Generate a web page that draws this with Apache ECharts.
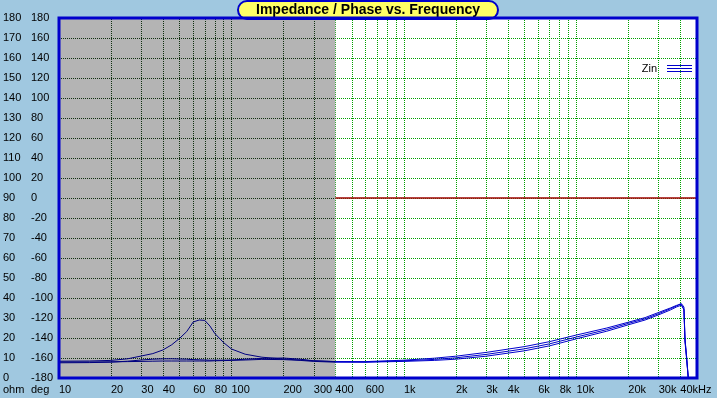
<!DOCTYPE html>
<html><head><meta charset="utf-8">
<script src="https://cdn.jsdelivr.net/npm/echarts@6/dist/echarts.min.js"></script>
<style>html,body{margin:0;padding:0;background:#a0c8e0;}#c{width:717px;height:398px;}</style>
</head><body><div id="c"></div>
<script>
const freq = [10,15,20,25,30,35,40,45,50,55,60,65,70,75,80,90,100,120,150,200,250,300,400,600,1000,1500,2000,3000,5000,7000,10000,15000,20000,25000,30000,35000,38000,40500,41500,42000,42600,43500,44500];
const zinA = [8.4,8.5,8.8,9.6,11.0,12.2,14.0,16.6,19.8,23.2,28.0,29.0,28.8,26.0,22.3,17.7,14.5,11.9,10.4,9.5,9.0,8.6,8.2,8.0,8.6,9.3,10.1,11.8,14.6,17.1,20.5,24.2,27.3,29.6,32.2,34.6,36.0,37.3,36.6,35.5,19.0,10.5,0];
const zinB = [7.6,7.7,7.9,8.4,9.0,9.4,9.6,9.6,9.5,9.4,9.2,9.1,9.0,8.9,8.9,8.9,9.0,9.4,9.8,10.0,9.4,8.6,8.2,8.2,8.9,9.9,10.9,12.8,15.7,18.2,21.5,25.0,27.9,30.2,32.8,35.0,36.3,36.9,36.2,34.0,18.0,9.5,0];
const zinC = [8.0,8.0,8.1,8.2,8.3,8.4,8.5,8.5,8.5,8.5,8.5,8.5,8.5,8.5,8.6,8.7,8.8,9.0,9.3,9.2,8.8,8.3,7.9,7.9,8.3,8.8,9.4,10.9,13.6,16.1,19.6,23.4,26.6,29.0,31.6,34.0,35.5,36.4,35.8,34.5,19.5,11.0,0];
const refFreq = [400, 50000];
const refOhm = [90, 90];
const xLabelValues = [10,20,30,40,60,80,100,200,300,400,600,1000,2000,3000,4000,6000,8000,10000,20000,30000,40000];
const xGridValues = [20,30,40,50,60,70,80,90,100,200,300,400,500,600,700,800,900,1000,2000,3000,4000,5000,6000,7000,8000,9000,10000,20000,30000,40000];
const grayStartFreq = 10;
const grayEndFreq = 400;
const grayGridFreq = [20,30,40,50,60,70,80,90,100,200,300];
const grayGridOhm = [10,20,30,40,50,60,70,80,90,100,110,120,130,140,150,160,170];
const titleText = 'Impedance / Phase vs. Frequency';

const FONT = 'Liberation Sans';
const chart = echarts.init(document.getElementById('c'), null, {renderer: 'canvas'});
const lowPart = (ys) => freq.map((f, i) => [f, ys[i]]).filter(p => p[0] <= grayEndFreq);
const highPart = (ys) => freq.map((f, i) => [f, ys[i]]).filter(p => p[0] >= grayEndFreq);
const fmtX = (v) => {
  if (v >= 40000) return '40kHz';
  if (v >= 1000) return (v / 1000) + 'k';
  return String(v);
};
const lineSeries = (data, color) => ({
  type: 'line', name: 'Zin', data: data,
  showSymbol: false, symbol: 'none', z: 5, animation: false,
  itemStyle: {color: '#0000cc'},
  lineStyle: {width: 1, color: color}
});
const darkGrid = grayGridFreq.map(f => [{coord: [f, 0]}, {coord: [f, 180]}])
  .concat(grayGridOhm.map(v => [{coord: [grayStartFreq, v]}, {coord: [grayEndFreq, v]}]));
chart.setOption({
  backgroundColor: '#a0c8e0',
  animation: false,
  textStyle: {fontFamily: FONT},
  title: {
    text: titleText, left: 238, top: 1,
    backgroundColor: '#ffff66', borderColor: '#0000cc', borderWidth: 2, borderRadius: 9,
    padding: [2, 18, 2, 18],
    textStyle: {fontFamily: FONT, fontSize: 14, fontWeight: 'bold', color: '#000'}
  },
  legend: {
    data: [{name: 'Zin', icon: 'path://M0,0H25V1.2H0Z M0,3H25V4.2H0Z M0,6H25V7.2H0Z', itemStyle: {color: '#0000cc', borderWidth: 0}}],
    right: 20, top: 58, align: 'right', itemWidth: 25, itemHeight: 8,
    lineStyle: {width: 0},
    textStyle: {fontFamily: FONT, fontSize: 11, color: '#000', padding: [0, 5, 0, 0]}
  },
  grid: {left: 59, top: 18, width: 638, height: 360, show: true, backgroundColor: '#ffffff', borderWidth: 0},
  xAxis: {type: 'log', min: 10, max: 50000, logBase: 10,
     axisLine: {show: false}, axisTick: {show: false, customValues: xGridValues},
     axisLabel: {customValues: xLabelValues, formatter: fmtX, align: 'left', margin: 6, fontSize: 11, color: '#000', fontFamily: FONT},
     splitLine: {show: true, lineStyle: {color: '#00a000', type: [1, 1], width: 1}}},
  yAxis: [
    {type: 'value', min: 0, max: 180, interval: 10, position: 'left',
     axisLine: {show: false}, axisTick: {show: false},
     axisLabel: {align: 'left', margin: 56, fontSize: 11, color: '#000', fontFamily: FONT, padding: [0, 0, 5, 0]},
     splitLine: {show: true, lineStyle: {color: '#00a000', type: [1, 1], width: 1}}},
    {type: 'value', min: -180, max: 180, interval: 20, position: 'left',
     axisLine: {show: false}, axisTick: {show: false},
     axisLabel: {align: 'left', margin: 28, fontSize: 11, color: '#000', fontFamily: FONT, padding: [0, 0, 5, 0]},
     splitLine: {show: false}}
  ],
  series: [
    {type: 'line', name: 'gray', data: [], z: 1, silent: true,
     markArea: {silent: true, itemStyle: {color: '#b4b4b4', opacity: 1}, label: {show: false},
       data: [[{coord: [grayStartFreq, 0]}, {coord: [grayEndFreq, 180]}]]}},
    {type: 'line', name: 'grayGrid', data: [], z: 2, silent: true,
     markLine: {silent: true, symbol: ['none', 'none'], label: {show: false}, animation: false,
       lineStyle: {color: '#103010', type: [1, 1], width: 1}, emphasis: {disabled: true},
       data: darkGrid}},
    lineSeries(lowPart(zinA), '#000080'),
    lineSeries(lowPart(zinB), '#000080'),
    lineSeries(lowPart(zinC), '#000080'),
    lineSeries(highPart(zinA), '#0000cc'),
    lineSeries(highPart(zinB), '#0000cc'),
    lineSeries(highPart(zinC), '#0000cc'),
    {type: 'line', name: 'ref', data: refFreq.map((f, i) => [f, refOhm[i]]),
     showSymbol: false, symbol: 'none', z: 4, lineStyle: {width: 1.5, color: '#a00000'}}
  ],
  graphic: [
    {type: 'rect', z: 100, shape: {x: 59, y: 18, width: 638, height: 360}, style: {fill: 'none', stroke: '#0000cc', lineWidth: 3}},
    {type: 'text', z: 100, x: 3, y: 390, style: {text: 'ohm', fontFamily: FONT, fontSize: 11, fill: '#000', verticalAlign: 'middle'}},
    {type: 'text', z: 100, x: 31, y: 390, style: {text: 'deg', fontFamily: FONT, fontSize: 11, fill: '#000', verticalAlign: 'middle'}}
  ]
});
</script></body></html>
